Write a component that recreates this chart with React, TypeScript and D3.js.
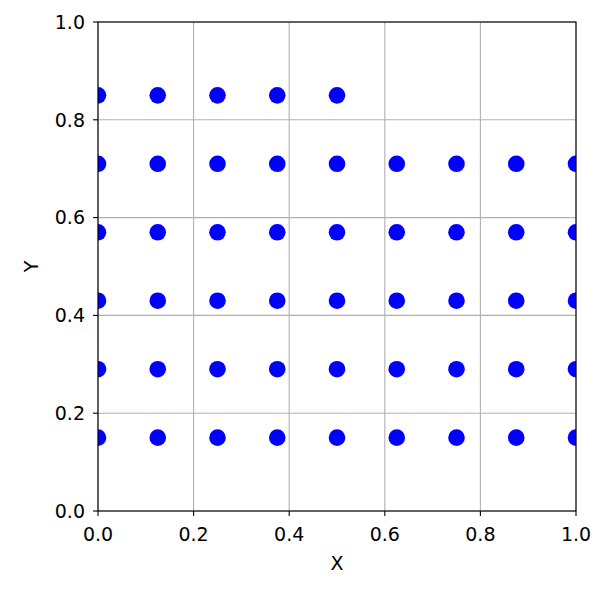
import React from "react";
import * as d3 from "d3";

// grid of points, top row only partially filled
const xValues = [0, 0.125, 0.25, 0.375, 0.5, 0.625, 0.75, 0.875, 1.0];
const yValues = [0.15, 0.29, 0.43, 0.57, 0.71];
const topRowY = 0.85;
const topRowX = [0, 0.125, 0.25, 0.375, 0.5];
const ticks = [0, 0.2, 0.4, 0.6, 0.8, 1.0];

const points: { x: number; y: number }[] = [];
yValues.forEach((y) => xValues.forEach((x) => points.push({ x, y })));
topRowX.forEach((x) => points.push({ x, y: topRowY }));

export default function App() {
  const width = 598;
  const height = 598;
  const margin = { top: 22, right: 22, bottom: 87, left: 98 };

  const x = d3.scaleLinear().domain([0, 1]).range([margin.left, width - margin.right]);
  const y = d3.scaleLinear().domain([0, 1]).range([height - margin.bottom, margin.top]);

  const font = "'DejaVu Sans', sans-serif";
  const fs = 19;

  return (
    <svg
      width={width}
      height={height}
      style={{ position: "absolute", left: 0, top: 0, background: "#fff" }}
    >
      <defs>
        <clipPath id="plot-area">
          <rect x={x(0)} y={y(1)} width={x(1) - x(0)} height={y(0) - y(1)} />
        </clipPath>
      </defs>

      {/* grid */}
      {ticks.map((t) => (
        <g key={"g" + t}>
          <line x1={x(t)} x2={x(t)} y1={y(0)} y2={y(1)} stroke="#b0b0b0" strokeWidth={1.1} />
          <line x1={x(0)} x2={x(1)} y1={y(t)} y2={y(t)} stroke="#b0b0b0" strokeWidth={1.1} />
        </g>
      ))}

      {/* points */}
      <g clipPath="url(#plot-area)">
        {points.map((p, i) => (
          <circle key={i} cx={x(p.x)} cy={y(p.y)} r={8.3} fill="#0000ff" />
        ))}
      </g>

      {/* frame */}
      <rect
        x={x(0)}
        y={y(1)}
        width={x(1) - x(0)}
        height={y(0) - y(1)}
        fill="none"
        stroke="#000"
        strokeWidth={1.1}
      />

      {/* x ticks */}
      {ticks.map((t) => (
        <g key={"x" + t}>
          <line x1={x(t)} x2={x(t)} y1={y(0)} y2={y(0) + 5} stroke="#000" strokeWidth={1.1} />
          <text
            x={x(t)}
            y={541}
            textAnchor="middle"
            fontFamily={font}
            fontSize={fs}
            fill="#000"
          >
            {t.toFixed(1)}
          </text>
        </g>
      ))}

      {/* y ticks */}
      {ticks.map((t) => (
        <g key={"y" + t}>
          <line x1={x(0) - 5} x2={x(0)} y1={y(t)} y2={y(t)} stroke="#000" strokeWidth={1.1} />
          <text
            x={x(0) - 13}
            y={y(t)}
            dy="0.36em"
            textAnchor="end"
            fontFamily={font}
            fontSize={fs}
            fill="#000"
          >
            {t.toFixed(1)}
          </text>
        </g>
      ))}

      <text
        x={(x(0) + x(1)) / 2}
        y={570}
        textAnchor="middle"
        fontFamily={font}
        fontSize={fs}
        fill="#000"
      >
        X
      </text>
      <text
        transform={`translate(38,${(y(0) + y(1)) / 2}) rotate(-90)`}
        textAnchor="middle"
        fontFamily={font}
        fontSize={fs}
        fill="#000"
      >
        Y
      </text>
    </svg>
  );
}
